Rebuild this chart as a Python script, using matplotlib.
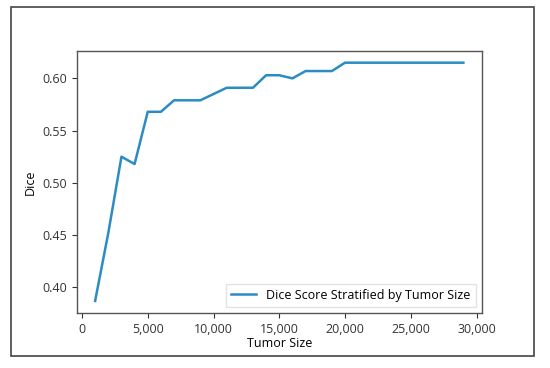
import matplotlib
matplotlib.use("Agg")
import matplotlib.pyplot as plt
from matplotlib.patches import Rectangle
from matplotlib.ticker import FuncFormatter

plt.rcParams['font.family'] = ['Open Sans', 'DejaVu Sans']

# tumor size bins and dice score per bin
tumor_size = [1000, 2000, 3000, 4000, 5000, 6000, 7000, 8000, 9000, 10000,
              11000, 12000, 13000, 14000, 15000, 16000, 17000, 18000, 19000, 20000,
              21000, 22000, 23000, 24000, 25000, 26000, 27000, 28000, 29000]
dice = [0.387, 0.452, 0.525, 0.518, 0.568, 0.568, 0.579, 0.579, 0.579, 0.585,
        0.591, 0.591, 0.591, 0.603, 0.603, 0.600, 0.607, 0.607, 0.607, 0.615,
        0.615, 0.615, 0.615, 0.615, 0.615, 0.615, 0.615, 0.615, 0.615]

fig = plt.figure(figsize=(5.5, 3.68), dpi=100)
ax = fig.add_axes([0.1395, 0.150, 0.7365, 0.712])

ax.plot(tumor_size, dice, color='#2b8cc4', lw=1.8, label='Dice Score Stratified by Tumor Size')
ax.set_xlabel('Tumor Size', fontsize=9, labelpad=1)
ax.set_ylabel('Dice', fontsize=9)
ax.set_xticks([0, 5000, 10000, 15000, 20000, 25000, 30000])
ax.set_yticks([0.40, 0.45, 0.50, 0.55, 0.60])
ax.xaxis.set_major_formatter(FuncFormatter(lambda v, p: f'{int(v):,}'))
ax.yaxis.set_major_formatter(FuncFormatter(lambda v, p: f'{v:.2f}'))
ax.tick_params(labelsize=9, colors='#333333', length=3.5)
for s in ax.spines.values():
    s.set_color('#555555')
    s.set_linewidth(1.0)

leg = ax.legend(loc='lower right', fontsize=9, frameon=True, fancybox=False, borderpad=0.4)
leg.get_frame().set_edgecolor('#dddddd')

# outer border of the figure
fig.patches.append(Rectangle((0.02, 0.0326), 0.951, 0.948, transform=fig.transFigure,
                             fill=False, edgecolor='#444444', lw=1.2))

fig.savefig('out.png', dpi=100)
